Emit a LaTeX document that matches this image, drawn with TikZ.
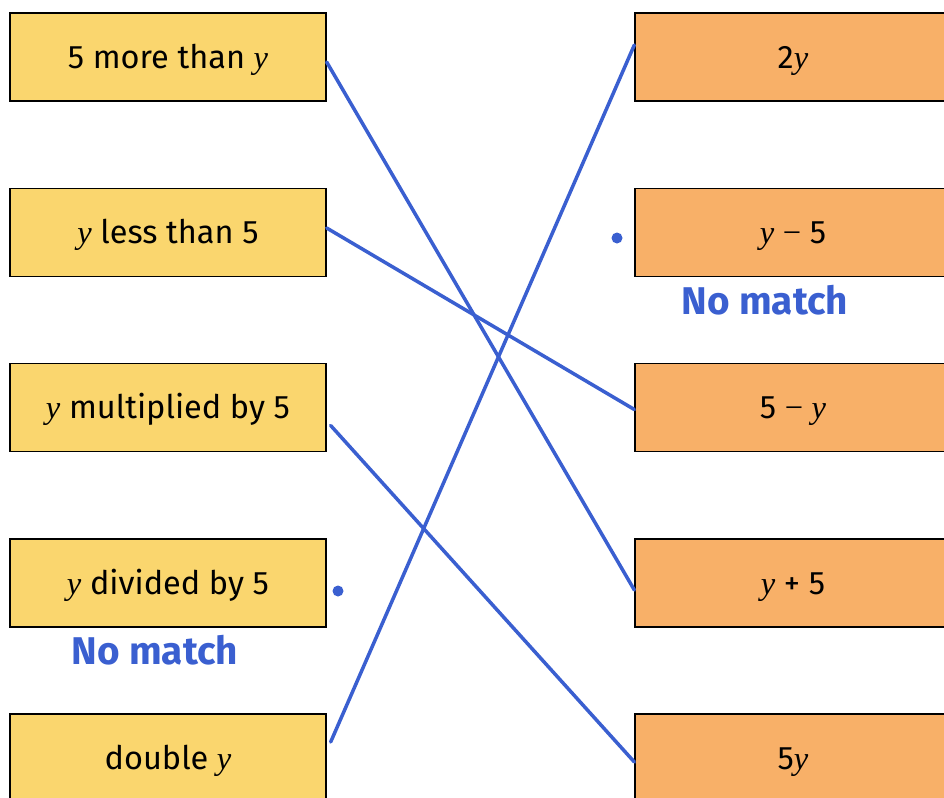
\documentclass[tikz,border=0pt]{standalone}
\usepackage{fontspec}
\setmainfont{Fira Sans}
\newfontfamily\yfont{Liberation Serif}
\newcommand{\vy}{{\yfont\itshape y}}
\definecolor{boxyellow}{RGB}{250,214,110}
\definecolor{boxorange}{RGB}{248,176,104}
\definecolor{penblue}{RGB}{58,95,208}
\begin{document}
\begin{tikzpicture}[x=0.02cm, y=-0.02cm,
    lbox/.style={draw=black, line width=0.8pt, fill=boxyellow, minimum width=6.32cm, minimum height=1.76cm,
        text height=13pt, text depth=0pt, font=\fontsize{18.5}{22}\selectfont},
    rbox/.style={lbox, fill=boxorange},
    penline/.style={draw=penblue, line width=2pt, line cap=round},
    note/.style={text=penblue, font=\fontsize{22}{26}\selectfont\bfseries},
    dot/.style={circle, fill=penblue, inner sep=0pt, minimum size=2.2mm}]
    \useasboundingbox (0,0) rectangle (944,798);
    \clip (0,0) rectangle (944,798);

    % --- words ---
    \node[lbox] (L1) at (168,57) {5 more than \vy};
    \node[lbox] (L2) at (168,232.5) {\vy\ less than 5};
    \node[lbox] (L3) at (168,407.5) {\vy\ multiplied by 5};
    \node[lbox] (L4) at (168,583) {\vy\ divided by 5};
    \node[lbox] (L5) at (168,758) {double \vy};

    % --- expressions ---
    \node[rbox] (R1) at (793,57) {2\vy};
    \node[rbox] (R2) at (793,232.5) {\vy\ {\yfont −} 5};
    \node[rbox] (R3) at (793,407.5) {5 {\yfont −} \vy};
    \node[rbox] (R4) at (793,583) {\vy\ + 5};
    \node[rbox] (R5) at (793,758) {5\vy};

    % pen lines
    \draw[penline] ([yshift=-0.1cm]L1.east) -- ([yshift=-0.14cm]R4.west);
    \draw[penline] ([yshift=0.09cm]L2.east) -- ([yshift=-0.04cm]R3.west);
    \draw[penline] ([xshift=0.08cm,yshift=-0.36cm]L3.east) -- ([yshift=-0.08cm]R5.west);
    \draw[penline] ([xshift=0.08cm,yshift=0.32cm]L5.east) -- ([yshift=0.24cm]R1.west);

    % no match
    \node[dot] (d1) at (617,238) {};
    \node[dot] (d2) at (338,591) {};
    \node[note] (n1) at (765,300) {No match};
    \node[note] (n2) at (155,650) {No match};
\end{tikzpicture}
\end{document}
